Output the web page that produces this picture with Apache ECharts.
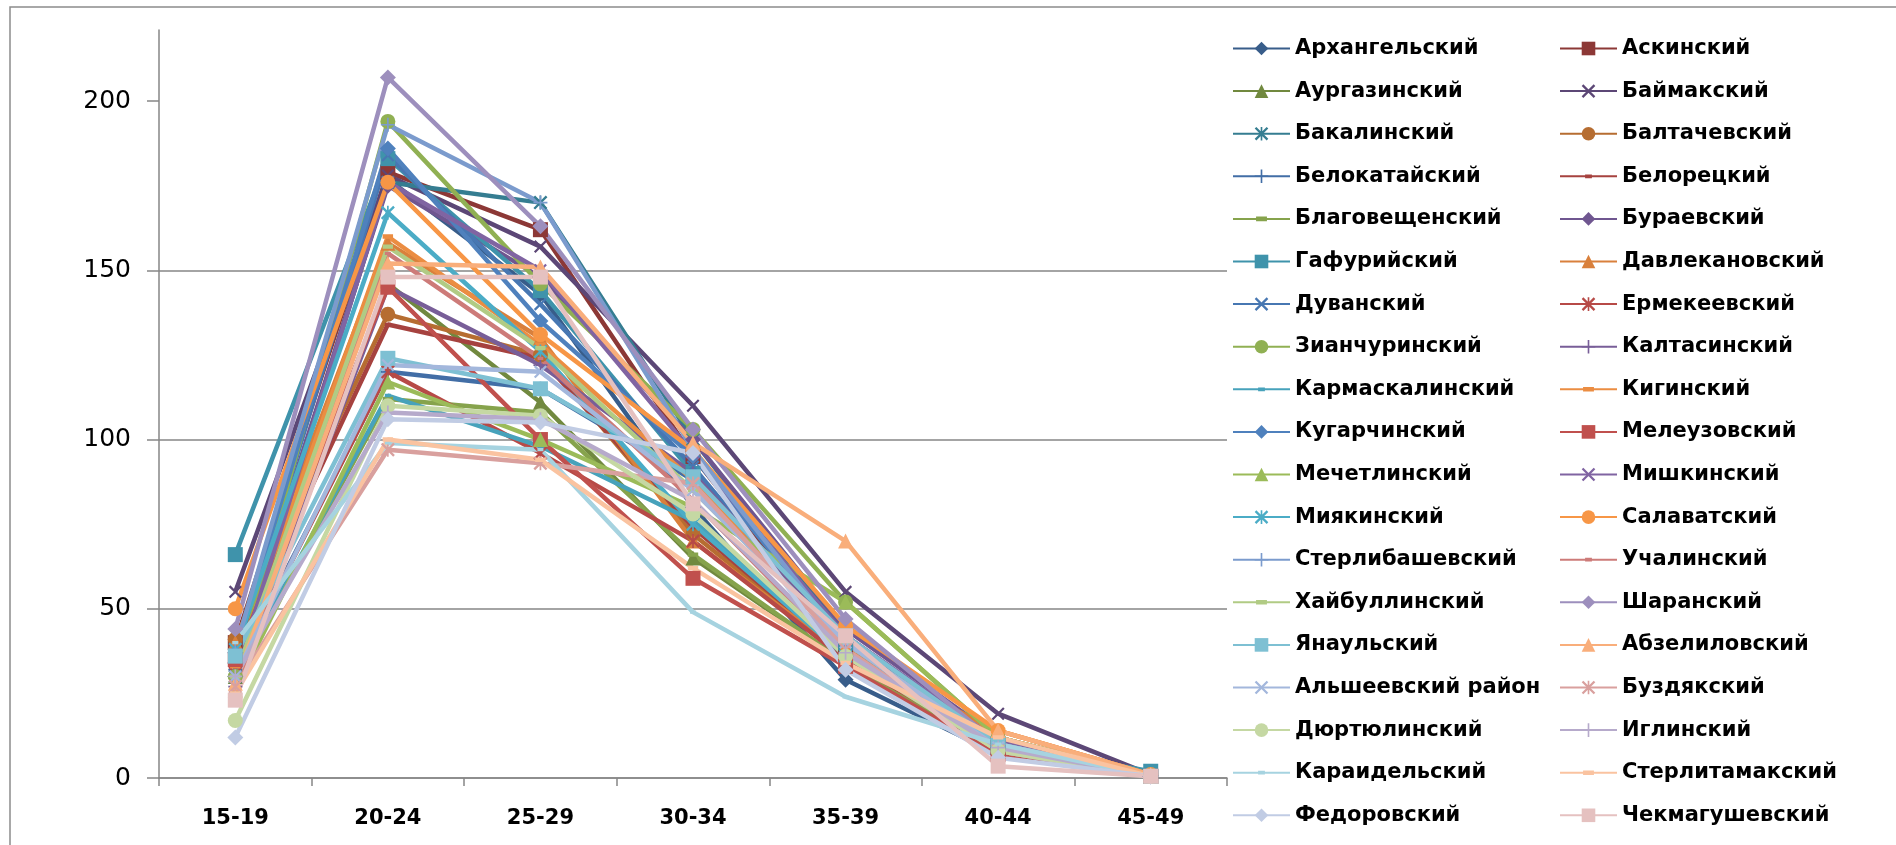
<!DOCTYPE html>
<html>
<head>
<meta charset="utf-8">
<script src="https://cdn.jsdelivr.net/npm/echarts@6/dist/echarts.min.js"></script>
<style>html,body{margin:0;padding:0;background:#fff}#c{width:1896px;height:845px}</style>
</head>
<body>
<div id="c"></div>
<script>
// ---- data ----
const categories = ['15-19','20-24','25-29','30-34','35-39','40-44','45-49'];
const yTicks = [0, 50, 100, 150, 200];
const names = ['Архангельский','Аскинский','Аургазинский','Баймакский','Бакалинский','Балтачевский',
  'Белокатайский','Белорецкий','Благовещенский','Бураевский','Гафурийский','Давлекановский',
  'Дуванский','Ермекеевский','Зианчуринский','Калтасинский','Кармаскалинский','Кигинский',
  'Кугарчинский','Мелеузовский','Мечетлинский','Мишкинский','Миякинский','Салаватский',
  'Стерлибашевский','Учалинский','Хайбуллинский','Шаранский','Янаульский','Абзелиловский',
  'Альшеевский район','Буздякский','Дюртюлинский','Иглинский','Караидельский','Стерлитамакский',
  'Федоровский','Чекмагушевский'];
const arkhangelsky   = [30, 177, 143, 80, 29, 7, 0.5];
const askinsky       = [40, 179, 162, 95, 38, 9, 0.5];
const aurgazinsky    = [30, 146, 111, 65, 34, 8, 0.5];
const baymaksky      = [55, 178, 157, 110, 55, 19, 1];
const bakalinsky     = [30, 176, 170, 100, 42, 10, 1];
const baltachevsky   = [41, 137, 125, 72, 36, 10, 0.5];
const belokataysky   = [32, 120, 115, 88, 38, 9, 0.5];
const beloretsky     = [38, 134, 124, 74, 36, 9, 0.5];
const blagoveshchensky = [29, 112, 108, 66, 34, 8, 0.5];
const buraevsky      = [34, 175, 148, 100, 44, 12, 0.5];
const gafuriysky     = [66, 183, 144, 90, 40, 10, 2];
const davlekanovsky  = [40, 158, 130, 70, 36, 14, 1];
const duvansky       = [35, 184, 140, 92, 38, 8, 0.5];
const ermekeevsky    = [31, 120, 96, 70, 35, 9, 0.5];
const zianchurinsky  = [30, 194, 146, 103, 52, 12, 0.5];
const kaltasinsky    = [27, 145, 122, 90, 40, 10, 0.5];
const karmaskalinsky = [30, 113, 98, 76, 38, 9, 0.5];
const kiginsky       = [33, 160, 128, 88, 38, 12, 0.5];
const kugarchinsky   = [37, 186, 135, 95, 40, 9, 0.5];
const meleuzovsky    = [35, 145, 100, 59, 33, 7, 0.5];
const mechetlinsky   = [26, 117, 100, 80, 52, 12, 0.5];
const mishkinsky     = [30, 176, 150, 96, 42, 11, 0.5];
const miyakinsky     = [38, 167, 126, 75, 36, 9, 0.5];
const salavatsky     = [50, 176, 131, 97, 45, 14, 1];
const sterlibashevsky = [38, 193, 170, 97, 40, 8, 0.5];
const uchalinsky     = [26, 155, 124, 82, 36, 9, 0.5];
const khaybullinsky  = [30, 157, 127, 85, 40, 9, 0.5];
const sharansky      = [44, 207, 163, 103, 47, 10, 0.5];
const yanaulsky      = [36, 124, 115, 89, 42, 10, 0.5];
const abzelilovsky   = [28, 152, 151, 99, 70, 14, 1];
const alsheevsky     = [30, 122, 120, 85, 40, 9, 0.5];
const buzdyaksky     = [27, 97, 93, 87, 38, 8, 0.5];
const dyurtyulinsky  = [17, 110, 107, 78, 36, 8, 0.5];
const iglinsky       = [30, 108, 106, 82, 37, 9, 0.5];
const karaidelsky    = [40, 99, 97, 49, 24, 10, 0.5];
const sterlitamaksky = [25, 100, 94, 62, 34, 12, 0.5];
const fedorovsky     = [12, 106, 105, 96, 32, 6, 0.5];
const chekmagushevsky = [23, 148, 148, 81, 42, 3.5, 0.5];

const seriesValues = [arkhangelsky, askinsky, aurgazinsky, baymaksky, bakalinsky, baltachevsky,
  belokataysky, beloretsky, blagoveshchensky, buraevsky, gafuriysky, davlekanovsky,
  duvansky, ermekeevsky, zianchurinsky, kaltasinsky, karmaskalinsky, kiginsky,
  kugarchinsky, meleuzovsky, mechetlinsky, mishkinsky, miyakinsky, salavatsky,
  sterlibashevsky, uchalinsky, khaybullinsky, sharansky, yanaulsky, abzelilovsky,
  alsheevsky, buzdyaksky, dyurtyulinsky, iglinsky, karaidelsky, sterlitamaksky,
  fedorovsky, chekmagushevsky];

const colors = ['#385d8a','#8c3836','#71893f','#5c4776','#357d91','#b66d31',
  '#426ea6','#a6423f','#86a34c','#6f5690','#3f93ab','#d9803c',
  '#4777b2','#b74a47','#90b053','#785e98','#47a2bb','#eb8d42',
  '#4f81bd','#c0504d','#9bbb59','#8064a2','#4bacc6','#f79646',
  '#7b9bcd','#cd7b79','#b1cb84','#9d8fbd','#7ec0d3','#f9ae7b',
  '#a3b7dc','#d9a09e','#c5d8a3','#b6aacb','#a6d3e0','#fac3a0',
  '#c1cce4','#e5c1c0'];

// ---- marker styles ----
// tiny corner specks keep a square bounding box so thin marks keep their proportions
const BOX = 'M0,0L0.02,0L0,0.02Z M10,10L9.98,10L10,9.98Z ';
const SYM = {
  diamond: {symbol: 'path://M5,0L10,5L5,10L0,5Z', size: 16},
  square: {symbol: 'rect', size: 15},
  triangle: {symbol: 'triangle', size: 15},
  x: {symbol: 'path://M0,1.2L1.2,0L10,8.8L8.8,10Z M8.8,0L10,1.2L1.2,10L0,8.8Z', size: 13},
  star: {symbol: 'path://M4.4,0H5.6V10H4.4Z M0,1.2L1.2,0L10,8.8L8.8,10Z M8.8,0L10,1.2L1.2,10L0,8.8Z', size: 14},
  circle: {symbol: 'circle', size: 15},
  plus: {symbol: 'path://M4.4,0H5.6V4.4H10V5.6H5.6V10H4.4V5.6H0V4.4H4.4Z', size: 14},
  sdash: {symbol: 'path://' + BOX + 'M2.5,3.6H7.5V6.4H2.5Z', size: 12},
  ldash: {symbol: 'path://' + BOX + 'M1,3.3H9V6.7H1Z', size: 13}
};
const markerCycle = ['diamond','square','triangle','x','star','circle','plus','sdash','ldash'];

const series = names.map((n, i) => {
  const m = SYM[markerCycle[i % 9]];
  return {
    name: n, type: 'line', data: seriesValues[i],
    symbol: m.symbol, symbolSize: m.size, symbolKeepAspect: true,
    showAllSymbol: true,
    color: colors[i],
    lineStyle: {width: 4.5, color: colors[i]},
    itemStyle: {color: colors[i], borderWidth: 0},
    emphasis: {disabled: true},
    animation: false
  };
});

const col1 = names.filter((_, i) => i % 2 === 0);
const col2 = names.filter((_, i) => i % 2 === 1);
const legendBase = {
  orient: 'vertical', top: 33, itemGap: 21.6, itemWidth: 57, itemHeight: 17,
  textStyle: {fontFamily: 'DejaVu Sans', fontWeight: 'bold', fontSize: 21, color: '#000', lineHeight: 21},
  selectedMode: false
};

const chart = echarts.init(document.getElementById('c'), null, {renderer: 'canvas'});
chart.setOption({
  animation: false,
  backgroundColor: '#fff',
  graphic: [{type: 'rect', shape: {x: 10, y: 7, width: 1920, height: 900},
    style: {fill: 'none', stroke: '#8c8c8c', lineWidth: 1.5}, silent: true, z: -1}],
  grid: {left: 159, right: 669, top: 30, bottom: 67, containLabel: false},
  legend: [
    Object.assign({}, legendBase, {left: 1227, data: col1}),
    Object.assign({}, legendBase, {left: 1554, data: col2})
  ],
  xAxis: {
    type: 'category', data: categories, boundaryGap: true,
    axisLine: {lineStyle: {color: '#868686', width: 1.5}},
    axisTick: {show: true, length: 8, lineStyle: {color: '#868686', width: 1.5}},
    axisLabel: {margin: 30, fontFamily: 'DejaVu Sans', fontWeight: 'bold', fontSize: 21, color: '#000'}
  },
  yAxis: {
    type: 'value', min: 0, max: 221, interval: 50,
    axisLine: {show: true, lineStyle: {color: '#868686', width: 1.5}},
    axisTick: {show: true, length: 12, customValues: yTicks, lineStyle: {color: '#868686', width: 1.5}},
    axisLabel: {margin: 28, customValues: yTicks, fontFamily: 'DejaVu Sans', fontSize: 25, color: '#000'},
    splitLine: {show: true, showMaxLine: false, lineStyle: {color: '#868686', width: 1.5}}
  },
  series: series
});
</script>
</body>
</html>
